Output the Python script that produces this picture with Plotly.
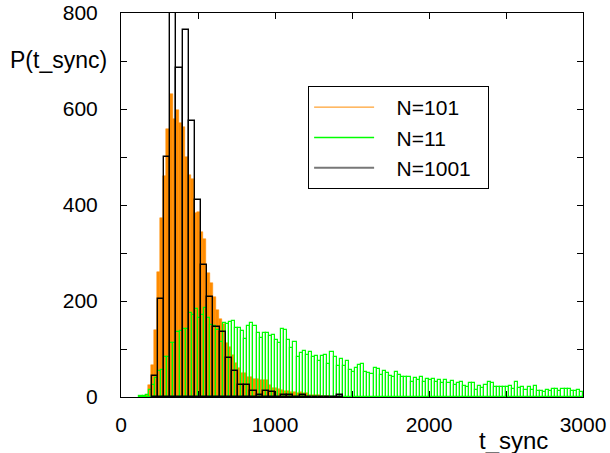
import numpy as np
import plotly.graph_objects as go

# ---------------- data ----------------
# N=101 : histogram, bin width 20, first bin starts at t=135
n101_start = 135
n101_width = 20
n101_vals = [2, 5, 25, 67, 140, 261, 372, 460, 558, 631, 580, 598, 570, 563, 500,
             462, 455, 383, 386, 344, 330, 258, 238, 208, 181, 162, 152, 113, 104, 88,
             70, 60, 49, 50, 42, 42, 38, 38, 35, 35, 35, 24, 18, 18, 17,
             15, 13, 12, 10, 10, 9, 10, 8, 8, 5, 5, 4, 4, 3, 2,
             2, 1, 1]

# N=11 : histogram, bin width 20, first bin starts at t=120
n11_start = 120
n11_width = 20
n11_vals = [2, 3, 5, 15, 25, 40, 55, 56, 83, 83, 112, 113, 136, 138, 141,
            141, 176, 171, 183, 164, 171, 185, 164, 150, 148, 140, 115, 155, 152, 157,
            159, 144, 144, 138, 120, 148, 155, 147, 133, 122, 134, 134,
            127, 130, 118, 112, 141, 139, 118, 102, 115, 83,
            91, 96, 87, 93, 84, 85, 75, 86, 87, 69,
            93, 84, 65, 80, 64, 75, 56, 53, 60, 66,
            69, 52, 49, 47, 60, 58, 45, 55, 50, 44,
            42, 52, 45, 42, 42, 42, 32, 39, 36, 42,
            32, 38, 36, 38, 32, 36, 29, 36, 29, 34,
            26, 29, 31, 22, 20, 29, 29, 15, 22, 19,
            24, 32, 29, 21, 20, 20, 20, 21, 23, 17,
            31, 19, 20, 15, 21, 15, 22, 12, 13, 10,
            15, 13, 16, 16, 13, 16, 17, 17, 13, 12,
            15, 11]

# N=1001 : histogram, bin width 40, first bin starts at t=200
n1001_start = 200
n1001_width = 40
n1001_vals = [44, 205, 500, 900, 685, 765, 574, 410, 275, 209, 145, 135, 81, 55, 24,
              24, 13, 4, 13, 10, 0, 4, 4, 0, 4, 0, 0, 0, 0, 0, 4]

x_ticks = [0, 1000, 2000, 3000]
y_ticks = [0, 200, 400, 600, 800]

ORANGE = "#ff8c00"
GREEN = "#00ff00"
FONT = "Liberation Sans, Arial, sans-serif"


def centers(start, width, vals):
    return start + width * (np.arange(len(vals)) + 0.5)


fig = go.Figure()

fig.add_trace(go.Bar(
    x=centers(n101_start, n101_width, n101_vals), y=n101_vals, width=n101_width,
    marker=dict(color=ORANGE, line=dict(color=ORANGE, width=0.5)),
    showlegend=False, name="N=101"))

fig.add_trace(go.Bar(
    x=centers(n11_start, n11_width, n11_vals), y=n11_vals, width=n11_width,
    marker=dict(color="rgba(0,0,0,0)", line=dict(color=GREEN, width=1.2)),
    showlegend=False, name="N=11"))

fig.add_trace(go.Bar(
    x=centers(n1001_start, n1001_width, n1001_vals), y=n1001_vals, width=n1001_width,
    marker=dict(color="rgba(0,0,0,0)", line=dict(color="black", width=1.4)),
    showlegend=False, name="N=1001"))

# legend entries drawn as lines (gnuplot style)
NB = "\u00a0"
for nm, col, w in [("N=101", ORANGE, 1), ("N=11", GREEN, 1.5), ("N=1001", "#777777", 2)]:
    fig.add_trace(go.Scatter(x=[None], y=[None], mode="lines",
                             name=NB * 3 + nm + NB * 2,
                             line=dict(color=col, width=w)))

axis_common = dict(
    showgrid=False, zeroline=False, showline=True, linecolor="black", linewidth=1,
    mirror="allticks", ticks="inside", ticklen=6, tickcolor="black", tickwidth=1,
    tickfont=dict(family=FONT, size=21, color="black"), automargin=False,
    ticklabeloverflow="allow",
)

fig.update_xaxes(range=[0, 3000], tickvals=x_ticks,
                 minor=dict(dtick=500, ticks="inside", ticklen=6, tickcolor="black"),
                 ticklabelstandoff=9, **axis_common)
fig.update_yaxes(range=[0, 800], tickvals=y_ticks,
                 minor=dict(dtick=100, ticks="inside", ticklen=6, tickcolor="black"),
                 ticklabelstandoff=18, **axis_common)

fig.update_layout(
    width=610, height=453,
    margin=dict(l=121, r=27, t=13, b=56),
    paper_bgcolor="white", plot_bgcolor="white",
    barmode="overlay", bargap=0,
    font=dict(family=FONT, size=21, color="black"),
    legend=dict(x=0.405, y=0.81, xanchor="left", yanchor="top",
                bordercolor="black", borderwidth=1, bgcolor="white",
                font=dict(family=FONT, size=21, color="black"),
                itemwidth=60),
    annotations=[
        dict(text="P(t_sync)", xref="paper", yref="paper", x=-0.136, y=0.878,
             xanchor="center", yanchor="middle", showarrow=False,
             font=dict(family=FONT, size=23)),
        dict(text="t_sync", xref="paper", yref="paper", x=0.85, y=-0.112,
             xanchor="center", yanchor="middle", showarrow=False,
             font=dict(family=FONT, size=24)),
    ],
)

fig.write_html("out.html",
               config={"displayModeBar": False},
               post_script="document.body.style.margin='0';")
